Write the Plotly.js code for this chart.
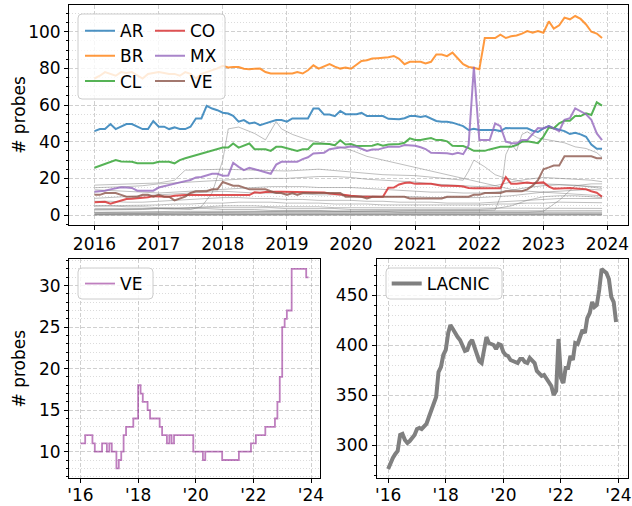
<!DOCTYPE html>
<html><head><meta charset="utf-8">
<script src="https://cdn.plot.ly/plotly-3.0.1.min.js"></script>
<style>html,body{margin:0;padding:0;background:#fff}#chart{width:632px;height:506px}</style>
</head><body><div id="chart"></div>
<script>
// ---------- time axis ----------
const startYear = 2016;
const nMonths = 96;
function monthDate(i){ const y = startYear + Math.floor(i/12); const m = i%12+1; return y+'-'+(m<10?'0':'')+m+'-01'; }
const months = Array.from({length:nMonths}, (_,i)=>monthDate(i));

// ---------- highlighted countries (monthly, Jan 2016 - Dec 2023) ----------
const AR = [45.8,46.9,46.9,49.6,46.9,48.5,49.6,49.6,48.2,46.9,46.9,51.3,
  48.2,48.2,46.9,47.8,46.9,46.9,48.2,52.7,52.7,59.6,58.1,57.2,
  55.8,55.4,54.1,50.9,51.8,50,50.5,49,50,50.9,51.8,51.8,
  50.9,52.7,52.7,52.7,52.7,58.1,58.1,54.8,54.8,53.9,56.8,55,
  55.2,55,55.7,54,54,54,54,52.5,52.2,52.2,52.8,54,
  54,53.5,54,52.5,51.3,50.9,50.9,50.4,49.5,48.5,46.4,47.1,
  46.4,46.4,46.4,46.4,45.8,47.5,47.3,47.3,47.3,47.3,46,45.3,
  47.3,48.5,47.3,46.7,45.8,44.2,44.9,44,42.7,38.5,36.2,36.2];
const BR = [74.5,76,78,77,76,78,77.5,78,76,74.5,77,77.5,
  78,77.5,77,77,76,78,77,74.5,77,78,79,80,
  81.4,80.5,80.8,80.8,79.8,79.5,79.8,79.9,78,77.2,77.2,77.2,
  77.6,77.2,78,77.2,79,81.7,79.9,81.2,82.4,81,79.9,80.5,
  79.8,82,84.1,84.5,85.4,85.6,85.8,86.1,86.8,85.2,82.3,83.6,
  83.6,83.6,82.7,83.6,87.6,87.6,86.7,88.6,85.4,82.3,80.8,80.4,
  79.5,96.6,96.6,96.6,98.4,96.6,97.5,98,99,100.4,99.5,100.4,
  99.5,105.7,101.7,103.5,107.7,106.8,108.6,107,104,100,99,96.6];
const CL = [25.8,26.8,27.8,28.8,30,29.2,29,29,28.2,28.2,28.2,28.2,
  29,29,29,28.2,30,31,31.8,32.7,33.6,34.5,35,36,
  36.8,36.8,39,36.8,38,39,35.9,35.9,35.9,35,37.2,37.2,
  36.5,35.9,35,35.9,35.9,39,39,39,38.7,38.1,40.8,38.5,
  38.7,37.7,37.8,37.8,37.8,38.7,37.8,38.5,38.7,38.7,39.4,41.8,
  40.9,40.9,41.5,42,40.9,40.9,40.2,37.8,37.6,37.6,36.5,35,
  35,35,35.8,36.5,37.2,37.2,37.2,38.2,40,40.2,39.7,39.2,
  42.8,47.7,47.3,50,51.5,51.5,54,54,55.5,54.6,61.5,59.7];
const CO = [6.9,7.2,7.2,6.2,7,8.2,8.7,8.9,9.1,9.1,9.7,10.3,
  10.2,10,10,10.5,10.9,10.9,10.9,10.9,10.9,10.9,10.9,10.9,
  10.9,10.9,10.9,10.9,10.9,10.9,12.4,12.2,12.6,12.5,12.7,12.7,
  12.7,12.7,12.7,12.7,12.7,12.7,12.7,12.3,11.8,11.6,11.3,10.9,
  10.5,10.1,10,10,10,10,10,14.9,15,16.7,17.5,17.7,
  17,17,17,17,16.5,16,16,16,15.8,15.5,14.8,14.6,
  14.6,14.6,14.6,14.6,14.6,20.7,17,17,17.4,17.8,17.3,17.5,
  17.8,15.5,14.4,14.5,14.8,14.8,14.5,14.2,14,13,12.2,10];
const MX = [12.7,13,13.3,14,14.5,15.1,15,14.8,13.3,13.3,13.3,13.3,
  15,15.8,16.5,16.9,18,18.5,19.1,20.5,20.7,21.5,22.5,22.5,
  21.4,21.6,28.5,26.3,24.5,25.8,25,24.2,23.6,22.5,27.5,29,
  29,29,29,30.5,31.5,33.6,34,34,35.9,36.5,36.8,37,
  37.4,37.2,36.3,35,35.7,35.7,36.5,37.2,37.2,37.2,38.2,38,
  37.8,37,36,34,33.9,33.9,33.7,33.2,33.9,33.2,38.1,80.8,
  40.9,40.9,40.9,50,48.5,40,39.3,39.1,40.9,40.9,44.5,47.5,
  47.2,48.5,47.3,45.8,52,52.8,58.2,56.4,55,52,44.5,40.9];
const VE = [11,11,12,12,12,11,10,10,10,11,11,10,
  11,10,10,8,9,10,12,13,13,13,14,14,
  18,17,16,16,15,14,14,14,14,13,12,12,
  11,12,11,12,12,12,12,12,12,12,12,10,
  10,10,10,9,10,10,10,10,10,10,10,9,
  9,9,9,9,9,9,10,10,10,10,10,11,
  11,12,12,12,12,13,13,13,13,14,16,19,
  25,26,27,27,32,32,32,32,32,32,31,31];
const LACNIC = [276,283,287,291,294,310,311,305,302,304,308,310,
  316,317,316,318,321,328,334,342,348,373,378,390,
  395,412,420,416,411,408,405,399,394,395,402,405,
  398,390,384,382,393,408,402,401,400,396,401,400,
  393,390,389,385,384,383,382,386,386,383,382,387,
  385,382,374,371,369,370,366,363,359,350,354,406,
  367,362,377,377,389,385,402,401,408,415,412,427,
  432,443,438,440,455,476,474,472,466,448,443,423];

// ---------- other countries (grey) ----------
const quarterMonths = [0,3,6,9,12,15,18,21,24,27,30,33,36,39,42,45,48,51,54,57,60,63,66,69,72,75,78,81,84,87,90,93,95];
const greyB = [14.9,15,15.5,16,17,17.5,18,18.5,19,19.5,20,20,20,20.5,21,21,20.5,19.5,19,18.5,18,17,16.5,16,15.5,16,18,19.5,20.5,20,19.5,19,18.2];
const greyC = [13.8,13.5,13,12.5,12,12.5,13,13.5,14,14.5,15,15.5,15.5,15.5,15,15,15,14.5,14,13.5,13,12.5,12.5,12,12,12.5,13.5,15,16,16.5,16,15.5,15.4];
const greyD = [9.1,9.5,10,10.5,11,11.5,12,12.5,13,12.5,12,12,11.5,11.5,11,11,10.5,10.5,10,10,10,9.5,9.5,9.5,9.5,10,10.5,11.5,12.5,13,13.5,14,13.6];
const greyE = [7.5,7.5,7,7,7.5,8,8.5,9,9.5,9.5,9,9,8.5,8.5,8,8,8,7.5,7.5,7,7,7,6.5,6.5,6.5,7,7.5,8,8.5,9,9,9,9];
const greyF = [5,5,4.5,4.5,4,4,3.5,3.5,3,3,3,2.5,2.5,2.5,2.5,2,2,2,2,1.5,1.5,1.5,1.5,1.5,1.5,1.5,1.5,1.5,2,8,16,17,17];
const greyG = [4.9,5,5,5.5,5.5,6,6,6.5,6.5,7,7,7,6.5,6.5,6.5,6,6,6,5.5,5.5,5.5,5.5,5.5,5.5,5.5,6,6,6.5,6.5,7,7,7,6.7];
const greyH = [3.6,3.5,3.5,3.5,3.5,3.5,4,4,4,4,4,4,3.5,3.5,3.5,3.5,3,3,3,3,3,3,3,3,3,3.5,5,8,10,10.5,10.5,10,9.5];
const greyI = [2.7,2.7,3,3,3.5,3.5,4,4.5,5,5,5,4.5,4.5,4.5,4.5,4,4,4,4,4,4,4,4,4,4,4,4,4,4,3.6,3.6,3.6,3.6];
const greyJ = [1.3,1.5,1.5,1.5,2,2,2,2,2,2,2,2,2,2,2,2,2,2,2,2,2,2,2,2,2,2,2.2,2.2,2.4,2.4,2.4,2.4,2.4];
const grey1Months = [0,6,12,18,20,22,24,25,27,30,32,34,35,37,40,44,48,51,54,57,60,63,66,69,72,75,78,81,84,87,90,93,95];
const grey1 = [3,3,3.5,3,4.5,12,30,47,48,44.5,41,51,47,44,41,38.5,35.4,32,30,28,26,24,22,20,18.3,16,14,13,12.5,12,11.5,11,10.5];
const grey2Months = [0,12,24,36,48,60,72,75,76,77,78,79,80,81,83,85,88,90,92,94,95];
const grey2 = [0.5,1,1.5,2,2,2.5,2.5,2.7,10,33,39,35,44,45.4,42,41,39.4,37.2,36.3,34,31.5];
const grey3Months = [0,6,12,15,17,18,24,30,36,42,48,54,60,66,69,70,71,73,75,77,79,81,84,90,95];
const grey3 = [16.3,17,17.5,19,24.5,24.5,25,24.5,24,25,23.6,22,21.5,20,19,24,30,26.3,22,20,19,17.3,17,16.3,14.5];
const flatMonths = [0,95];
const greyK = [1,1.1];
const greyL = [0.3,0.3];
const greyM = [0,0];
const greyN = [0.6,0.7];
const greyO = [0.1,0.1];
const greyP = [1.5,1.6];

// ---------- styling ----------
const W = 632, H = 506;
const px = x => x / W, py = y => 1 - y / H;
const FONT = {family:'DejaVu Sans', size:17, color:'#000'};
const GREY_LINE = {color:'rgba(128,128,128,0.5)', width:1};
const COLORS = {AR:'rgba(31,119,180,0.8)', BR:'rgba(255,127,14,0.8)', CL:'rgba(44,160,44,0.8)',
  CO:'rgba(214,39,40,0.8)', MX:'rgba(148,103,189,0.8)', VE:'rgba(140,86,75,0.8)'};

const traces = [];
function addGrey(ms, vals){
  traces.push({x: ms.map(monthDate), y: vals, type:'scatter', mode:'lines', line:GREY_LINE,
    showlegend:false, xaxis:'x', yaxis:'y', hoverinfo:'skip'});
}
[greyB,greyC,greyD,greyE,greyF,greyG,greyH,greyI,greyJ].forEach(v=>addGrey(quarterMonths, v));
addGrey(grey1Months, grey1); addGrey(grey2Months, grey2); addGrey(grey3Months, grey3);
[greyK,greyL,greyM,greyN,greyO,greyP].forEach(v=>addGrey(flatMonths, v));

const main = [['AR',AR,'legend'],['BR',BR,'legend'],['CL',CL,'legend'],['CO',CO,'legend2'],['MX',MX,'legend2'],['VE',VE,'legend2']];
main.forEach(([name, vals, lg])=>{
  traces.push({x: months, y: vals, name, type:'scatter', mode:'lines',
    line:{color:COLORS[name], width:2}, xaxis:'x', yaxis:'y', legend:lg});
});
traces.push({x: months, y: VE, name:'VE', type:'scatter', mode:'lines',
  line:{color:'rgba(128,0,128,0.5)', width:1.8, shape:'hv'}, xaxis:'x2', yaxis:'y2', legend:'legend3'});
traces.push({x: months, y: LACNIC, name:'LACNIC', type:'scatter', mode:'lines',
  line:{color:'#808080', width:4}, xaxis:'x3', yaxis:'y3', legend:'legend4'});

const GRID = 'rgba(176,176,176,0.6)', MGRID = 'rgba(176,176,176,0.45)';
const axBase = {showline:true, mirror:true, linecolor:'#000', linewidth:1, ticks:'outside', ticklen:4,
  tickwidth:1, tickcolor:'#000', showgrid:true, gridcolor:GRID, griddash:'4px,2px', gridwidth:1,
  zeroline:false, tickfont:FONT, fixedrange:true};
const minor = d => ({dtick:d, ticks:'outside', ticklen:2, tickcolor:'#000', showgrid:true, gridcolor:MGRID, griddash:'1px,2px'});
const xr = ['2015-08-09','2024-04-24'];

function roundRect(x0,y0,x1,y1,r){
  const X = v=>px(v), Y = v=>py(v);
  return `M${X(x0+r)},${Y(y0)} L${X(x1-r)},${Y(y0)} Q${X(x1)},${Y(y0)} ${X(x1)},${Y(y0+r)} L${X(x1)},${Y(y1-r)} Q${X(x1)},${Y(y1)} ${X(x1-r)},${Y(y1)} L${X(x0+r)},${Y(y1)} Q${X(x0)},${Y(y1)} ${X(x0)},${Y(y1-r)} L${X(x0)},${Y(y0+r)} Q${X(x0)},${Y(y0)} ${X(x0+r)},${Y(y0)} Z`;
}
const boxStyle = {type:'path', xref:'paper', yref:'paper', fillcolor:'rgba(255,255,255,0.8)', line:{color:'#cccccc', width:1}, layer:'above'};
const legBase = {xanchor:'left', yanchor:'top', bgcolor:'rgba(0,0,0,0)', borderwidth:0, font:FONT, traceorder:'normal'};

const layout = {
  width:W, height:H, margin:{l:0,r:0,t:0,b:0}, paper_bgcolor:'#fff', plot_bgcolor:'#fff',
  font:FONT, hovermode:false,
  xaxis:{...axBase, type:'date', domain:[px(69),px(627.5)], anchor:'y', range:xr, dtick:'M12', tick0:'2016-01-01', tickformat:'%Y'},
  yaxis:{...axBase, domain:[py(225),py(5)], anchor:'x', range:[-5.45,114.6], dtick:20, tick0:0, minor:minor(5),
    title:{text:'# probes', font:FONT}},
  xaxis2:{...axBase, type:'date', domain:[px(69),px(320)], anchor:'y2', range:xr, dtick:'M24', tick0:'2016-01-01', tickformat:"'%y", ticklabelstandoff:-3},
  yaxis2:{...axBase, domain:[py(478.3),py(259)], anchor:'x2', range:[6.8,33.2], dtick:5, tick0:0, minor:minor(1),
    title:{text:'# probes', font:FONT}},
  xaxis3:{...axBase, type:'date', domain:[px(376.7),px(627.5)], anchor:'y3', range:xr, dtick:'M24', tick0:'2016-01-01', tickformat:"'%y", ticklabelstandoff:-3},
  yaxis3:{...axBase, domain:[py(478.3),py(259)], anchor:'x3', range:[266.7,486], dtick:50, tick0:0, minor:minor(10)},
  legend:{...legBase, x:px(80), y:py(13.2)},
  legend2:{...legBase, x:px(150), y:py(13.2)},
  legend3:{...legBase, x:px(80), y:py(266)},
  legend4:{...legBase, x:px(386.7), y:py(266)},
  shapes:[
    {...boxStyle, path:roundRect(78,14,225,99,4)},
    {...boxStyle, path:roundRect(78,268,153,299,4)},
    {...boxStyle, path:roundRect(386,268,502,299,4)}
  ]
};
Plotly.newPlot('chart', traces, layout, {displayModeBar:false, staticPlot:true});
</script></body></html>
